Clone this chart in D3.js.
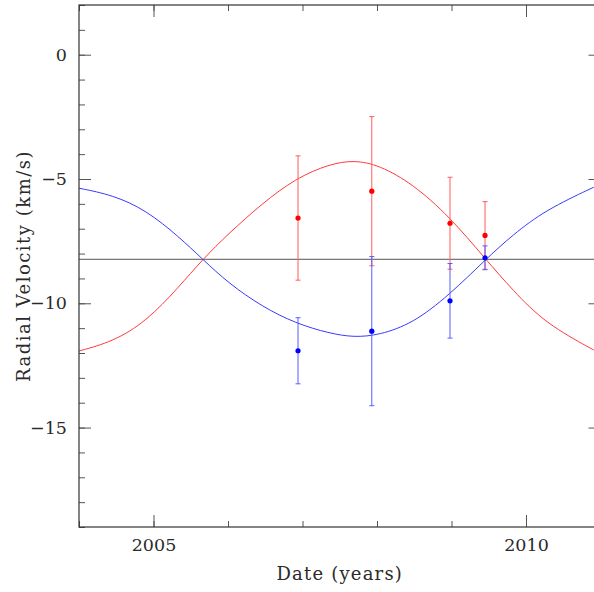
<!DOCTYPE html>
<html lang="en">
<head>
<meta charset="utf-8">
<title>Radial Velocity vs Date</title>
<script src="https://cdn.jsdelivr.net/npm/d3@7"></script>
<style>
  body { margin: 0; background: #fff; }
  svg { display: block; }
  text { font-family: "DejaVu Serif", serif; fill: #2a2a2a; }
</style>
</head>
<body>
<script>
// observations (epoch in years, velocity and 1-sigma error in km/s)
var obsYears = [2006.94, 2007.93, 2008.98, 2009.45];
var redVel = [-6.57, -5.49, -6.78, -7.27];
var redErr = [2.50, 3.00, 1.85, 1.36];
var blueVel = [-11.91, -11.12, -9.90, -8.17];
var blueErr = [1.33, 3.00, 1.50, 0.48];

// orbit curves
var curveYears = [2004.0, 2004.45, 2004.9, 2005.34, 2005.66, 2006.01, 2006.46, 2006.91, 2007.36,
                  2007.69, 2008.03, 2008.48, 2008.97, 2009.46, 2009.82, 2010.26, 2010.91];
var redCurve = [-11.92, -11.55, -10.74, -9.35, -8.23, -7.19, -5.98, -4.97, -4.40,
                -4.24, -4.44, -5.20, -6.50, -8.23, -9.47, -10.81, -11.88];
var blueCurve = [-5.37, -5.64, -6.25, -7.32, -8.23, -9.20, -10.14, -10.81, -11.21,
                 -11.37, -11.28, -10.81, -9.67, -8.23, -7.25, -6.25, -5.33];

var systemicVel = -8.23;

var xMajor = [2005, 2010];
var yMajor = [0, -5, -10, -15];

//Width and height
var w = 594, h = 592;
var padL = 79, padR = 600.5, padT = 5, padB = 527;

var svg = d3.select("body").append("svg")
  .attr("width", w)
  .attr("height", h);

var x = d3.scaleLinear().domain([2004, 2011]).range([padL, padR]);
var y = d3.scaleLinear().domain([-19, 2]).range([padB, padT]);

svg.append("defs").append("clipPath").attr("id", "clip")
  .append("rect")
  .attr("x", padL).attr("y", padT)
  .attr("width", padR - padL).attr("height", padB - padT);

var plot = svg.append("g").attr("clip-path", "url(#clip)");

// systemic velocity
plot.append("line")
  .attr("x1", padL).attr("x2", padR)
  .attr("y1", y(systemicVel)).attr("y2", y(systemicVel))
  .style("stroke", "#555")
  .style("stroke-width", 1);

var line = d3.line()
  .x(function(d) { return x(d[0]); })
  .y(function(d) { return y(d[1]); })
  .curve(d3.curveBasis);

plot.append("path")
  .datum(d3.zip(curveYears, redCurve))
  .attr("d", line)
  .style("fill", "none")
  .style("stroke", "#ff3a3a")
  .style("stroke-width", 1);

plot.append("path")
  .datum(d3.zip(curveYears, blueCurve))
  .attr("d", line)
  .style("fill", "none")
  .style("stroke", "#3a3aff")
  .style("stroke-width", 1);

function drawSeries(vel, err, barColor, dotColor) {
  var data = obsYears.map(function(t, i) { return { t: t, v: vel[i], e: err[i] }; });
  var g = plot.append("g");
  var bars = g.selectAll("g.bar").data(data).enter().append("g")
    .style("stroke", barColor)
    .style("stroke-width", 1);
  bars.append("line")
    .attr("x1", function(d) { return x(d.t); })
    .attr("x2", function(d) { return x(d.t); })
    .attr("y1", function(d) { return y(d.v + d.e); })
    .attr("y2", function(d) { return y(d.v - d.e); });
  bars.append("line")
    .attr("x1", function(d) { return x(d.t) - 2.5; })
    .attr("x2", function(d) { return x(d.t) + 2.5; })
    .attr("y1", function(d) { return y(d.v + d.e); })
    .attr("y2", function(d) { return y(d.v + d.e); });
  bars.append("line")
    .attr("x1", function(d) { return x(d.t) - 2.5; })
    .attr("x2", function(d) { return x(d.t) + 2.5; })
    .attr("y1", function(d) { return y(d.v - d.e); })
    .attr("y2", function(d) { return y(d.v - d.e); });
  g.selectAll("circle").data(data).enter().append("circle")
    .attr("cx", function(d) { return x(d.t); })
    .attr("cy", function(d) { return y(d.v); })
    .attr("r", 2.6)
    .style("fill", dotColor);
}

drawSeries(redVel, redErr, "#ff5c5c", "#ff0000");
drawSeries(blueVel, blueErr, "#5c5cff", "#0000ff");

// axes, ticks pointing inward on all four sides
function styleAxis(g) {
  g.select(".domain").remove();
  g.selectAll(".tick line").style("stroke", "#555");
  g.selectAll(".tick text").style("font-family", "DejaVu Serif").style("font-size", "17.5px").style("fill", "#2a2a2a");
}

var xMinorTicks = d3.range(2004, 2012, 1);
var yMinorTicks = d3.range(-19, 3, 1);

svg.append("g").attr("transform", "translate(0," + padB + ")")
  .call(d3.axisBottom(x).tickValues(xMinorTicks).tickSize(-6).tickFormat(""))
  .call(styleAxis);
svg.append("g").attr("transform", "translate(0," + padB + ")")
  .call(d3.axisBottom(x).tickValues(xMajor).tickSize(-12).tickPadding(11.5).tickFormat(d3.format("d")))
  .call(styleAxis);
svg.append("g").attr("transform", "translate(0," + padT + ")")
  .call(d3.axisTop(x).tickValues(xMinorTicks).tickSize(-6).tickFormat(""))
  .call(styleAxis);
svg.append("g").attr("transform", "translate(0," + padT + ")")
  .call(d3.axisTop(x).tickValues(xMajor).tickSize(-12).tickFormat(""))
  .call(styleAxis);

svg.append("g").attr("transform", "translate(" + padL + ",0)")
  .call(d3.axisLeft(y).tickValues(yMinorTicks).tickSize(-6).tickFormat(""))
  .call(styleAxis);
svg.append("g").attr("transform", "translate(" + padL + ",0)")
  .call(d3.axisLeft(y).tickValues(yMajor).tickSize(-12).tickPadding(12).tickFormat(d3.format("d")))
  .call(styleAxis);
svg.append("g").attr("transform", "translate(" + padR + ",0)")
  .call(d3.axisRight(y).tickValues(yMinorTicks).tickSize(-6).tickFormat(""))
  .call(styleAxis);
svg.append("g").attr("transform", "translate(" + padR + ",0)")
  .call(d3.axisRight(y).tickValues(yMajor).tickSize(-12).tickFormat(""))
  .call(styleAxis);

// frame
svg.append("rect")
  .attr("x", padL).attr("y", padT)
  .attr("width", padR - padL).attr("height", padB - padT)
  .style("fill", "none")
  .style("stroke", "#333")
  .style("stroke-width", 1.2);

// axis titles
svg.append("text")
  .attr("x", (padL + padR) / 2)
  .attr("y", 580)
  .attr("text-anchor", "middle")
  .style("font-size", "18px")
  .style("letter-spacing", "1.2px")
  .text("Date (years)");

svg.append("text")
  .attr("transform", "translate(30,266) rotate(-90)")
  .attr("text-anchor", "middle")
  .style("font-size", "18px")
  .style("letter-spacing", "1.5px")
  .text("Radial Velocity (km/s)");
</script>
</body>
</html>
